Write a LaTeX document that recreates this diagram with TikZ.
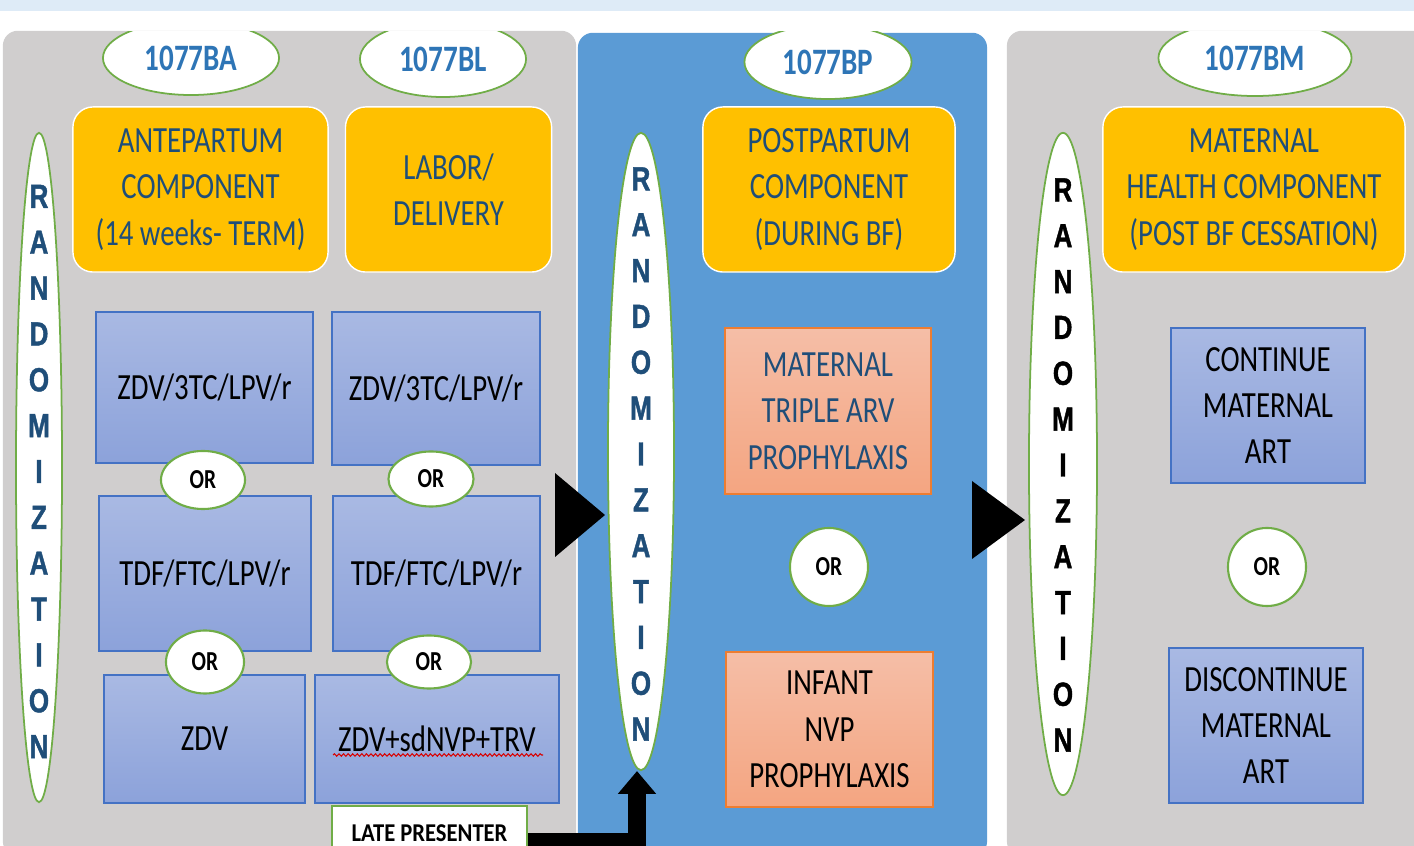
\documentclass[tikz,border=0pt]{standalone}
\usepackage{fontspec}
\setmainfont{Carlito}[FakeStretch=0.78]
\newfontfamily\randfamily{Liberation Sans}[FakeStretch=0.78, UprightFont=*-Bold, FakeBold=1.2]
\newfontfamily\latefamily{Carlito}[FakeStretch=0.88]
\usetikzlibrary{shapes.geometric}
\usetikzlibrary{arrows.meta}
\usetikzlibrary{positioning,calc,decorations.pathmorphing}
\definecolor{bandblue}{HTML}{DEEBF7}
\definecolor{panelgray}{HTML}{D0CECE}
\definecolor{panelblue}{HTML}{5B9BD5}
\definecolor{compyellow}{HTML}{FFC000}
\definecolor{navytext}{HTML}{1F4E79}
\definecolor{idblue}{HTML}{2E75B6}
\definecolor{okgreen}{HTML}{70AD47}
\definecolor{regtop}{HTML}{A9B9E3}
\definecolor{regbottom}{HTML}{8CA2DA}
\definecolor{regedge}{HTML}{4472C4}
\definecolor{prophtop}{HTML}{F5BEA7}
\definecolor{prophbottom}{HTML}{F4A581}
\definecolor{prophedge}{HTML}{ED7D31}
\newcommand{\componentcolor}[0]{compyellow}
\newcommand{\boxfont}[0]{\fontsize{10.5}{13.2}\selectfont}
\newcommand{\idfont}[0]{\bfseries\fontsize{10.6}{12}\selectfont}
\newcommand{\orfont}[0]{\bfseries\fontsize{7.8}{9}\selectfont}
\newcommand{\randletters}[0]{\randfamily\fontsize{9.5}{13.04}\selectfont}
\newcommand{\randword}[0]{R\\A\\N\\D\\O\\M\\I\\Z\\A\\T\\I\\O\\N}
\tikzset{
    panel/.style={rectangle, rounded corners=0.15cm, draw=none},
    studyid/.style={ellipse, draw=okgreen, line width=0.5pt, fill=white, inner sep=0pt,
        font=\idfont, text=idblue},
    component/.style={rectangle, rounded corners=0.2cm, draw=white, line width=0.4pt,
        fill=\componentcolor, text=navytext, align=center, font=\boxfont},
    regimen/.style={rectangle, draw=regedge, line width=0.6pt, top color=regtop,
        bottom color=regbottom, align=center, font=\boxfont},
    prophbox/.style={rectangle, draw=prophedge, line width=0.6pt, top color=prophtop,
        bottom color=prophbottom, align=center, font=\boxfont},
    randshape/.style={ellipse, draw=okgreen, line width=0.5pt, fill=white, inner sep=0pt},
    randtext/.style={align=center, inner sep=0pt, font=\randletters},
    orbubble/.style={ellipse, draw=okgreen, line width=0.6pt, fill=white, inner sep=0pt,
        font=\orfont},
}
\begin{document}
\begin{tikzpicture}[x=0.01cm, y=-0.01cm]
    \useasboundingbox (0,0) rectangle (1414,846);
    \clip (0,0) rectangle (1414,846);
    \fill[bandblue] (0,0) rectangle (1414,11);

    % three study panels
    \node[panel, fill=panelgray, minimum width=5.73cm, minimum height=8.25cm]
        (antePanel) at (289.5,443.5) {};
    \node[panel, fill=panelblue, minimum width=4.09cm, minimum height=8.23cm]
        (postPanel) at (782.5,444.5) {};
    \node[panel, fill=panelgray, minimum width=4.23cm, minimum height=8.25cm]
        (matPanel) at (1218.5,443.5) {};

    % study ids, cut by the panel tops
    \begin{scope}
        \clip (0,32) rectangle (1414,846);
        \node[studyid, minimum width=1.76cm, minimum height=0.74cm] (idBA) at (191,58) {1077BA};
        \node[studyid, minimum width=1.66cm, minimum height=0.76cm] (idBL) at (443,59) {1077BL};
        \node[studyid, minimum width=1.67cm, minimum height=0.74cm] (idBP) at (828,62) {1077BP};
        \node[studyid, minimum width=1.93cm, minimum height=0.76cm] (idBM) at (1255,58) {1077BM};
    \end{scope}

    % components
    \node[component, minimum width=2.55cm, minimum height=1.65cm]
        (compA) at (200.5,189.5) {ANTEPARTUM\\COMPONENT\\(14 weeks- TERM)};
    \node[component, minimum width=2.06cm, minimum height=1.65cm,
        right=0.16cm of compA]
        (compL) {LABOR/\\DELIVERY};
    \node[component, minimum width=2.52cm, minimum height=1.65cm]
        (compP) at (829,189.5) {POSTPARTUM\\COMPONENT\\(DURING BF)};
    \node[component, minimum width=3.02cm, minimum height=1.65cm]
        (compM) at (1254,189.5) {MATERNAL\\HEALTH COMPONENT\\(POST BF CESSATION)};

    % randomization
    \node[randshape, minimum width=0.46cm, minimum height=6.69cm] (randA) at (39,467.5) {};
    \node[randtext, text=navytext] (randAword) at ($(randA)+(0,4)$) {\randword};
    \node[randshape, minimum width=0.66cm, minimum height=6.37cm] (randP) at (641,451.5) {};
    \node[randtext, text=navytext] (randPword) at ($(randP)+(0,2.5)$) {\randword};
    \node[randshape, minimum width=0.68cm, minimum height=6.62cm] (randM) at (1063,464) {};
    \node[randtext, text=black] (randMword) at ($(randM)+(0,1)$) {\randword};

    % antepartum and labor arms
    \node[regimen, minimum width=2.17cm, minimum height=1.51cm]
        (zdvA) at (204.5,387.5) {ZDV/3TC/LPV/r};
    \node[regimen, minimum width=2.08cm, minimum height=1.53cm]
        (zdvL) at (436,388.5) {ZDV/3TC/LPV/r};
    \node[regimen, minimum width=2.12cm, minimum height=1.55cm]
        (tdfA) at (205,573.5) {TDF/FTC/LPV/r};
    \node[regimen, minimum width=2.07cm, minimum height=1.55cm]
        (tdfL) at (436.5,573.5) {TDF/FTC/LPV/r};
    \node[regimen, minimum width=2.01cm, minimum height=1.28cm]
        (zdvOnly) at (204.5,739) {ZDV};
    \node[regimen, minimum width=2.44cm, minimum height=1.28cm]
        (zdvTrv) at (437,739) {ZDV+sdNVP+TRV};
    \draw[red!85!black, line width=0.3pt, decorate,
        decoration={snake, amplitude=0.35pt, segment length=1.3pt}]
        ($(zdvTrv.center)+(-104,16)$) -- ++(210,0);

    % postpartum arms
    \node[prophbox, text=navytext, minimum width=2.06cm, minimum height=1.66cm]
        (triArv) at (828,411) {MATERNAL\\TRIPLE ARV\\PROPHYLAXIS};
    \node[prophbox, text=black, minimum width=2.07cm, minimum height=1.55cm]
        (infNvp) at (829.5,729.5) {INFANT\\NVP\\PROPHYLAXIS};

    % maternal health arms
    \node[regimen, minimum width=1.94cm, minimum height=1.55cm]
        (contArt) at (1268,405.5) {CONTINUE\\MATERNAL\\ART};
    \node[regimen, minimum width=1.94cm, minimum height=1.55cm]
        (discArt) at (1266,725.5) {DISCONTINUE\\MATERNAL\\ART};

    % OR bubbles
    \node[orbubble, minimum width=0.84cm, minimum height=0.58cm] (orA1) at (203,480) {OR};
    \node[orbubble, minimum width=0.85cm, minimum height=0.55cm] (orL1) at (431,479) {OR};
    \node[orbubble, minimum width=0.78cm, minimum height=0.63cm] (orA2) at (205,662) {OR};
    \node[orbubble, minimum width=0.84cm, minimum height=0.53cm] (orL2) at (429,662) {OR};
    \node[orbubble, minimum width=0.78cm, minimum height=0.78cm] (orP) at (829,567) {OR};
    \node[orbubble, minimum width=0.78cm, minimum height=0.78cm] (orM) at (1267,567) {OR};

    % arrows into the next randomization
    \coordinate (tipP) at (605,515);
    \coordinate (tipM) at (1025,520);
    \fill[black] (tipP) -- ++(-50,-42) -- ++(0,84) -- cycle;
    \fill[black] (tipM) -- ++(-53,-39) -- ++(0,78) -- cycle;

    % late presenter
    \node[rectangle, draw=okgreen, line width=0.6pt, fill=white, minimum width=1.95cm,
        minimum height=0.54cm, font=\latefamily\bfseries\fontsize{7.3}{9}\selectfont]
        (lateBox) at (429.5,833) {LATE PRESENTER};
    \coordinate (lateTurn) at (637,842);
    \draw[line width=5pt, -{Triangle[width=10.5pt, length=6.5pt]}]
        (lateBox.east |- lateTurn) -- (lateTurn) -- (lateTurn |- randP.south);
\end{tikzpicture}
\end{document}
